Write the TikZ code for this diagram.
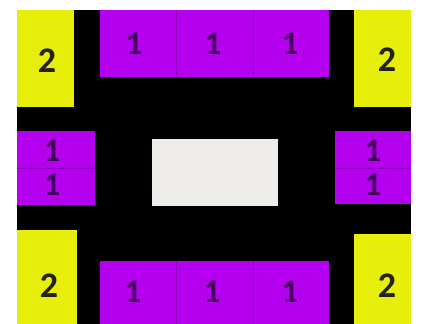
\documentclass[tikz,border=0pt]{standalone}
\usepackage{fontspec}
\setmainfont{Carlito}
\definecolor{pad}{RGB}{180,0,238}
\definecolor{padline}{RGB}{120,0,160}
\definecolor{yel}{RGB}{230,238,10}
\definecolor{core}{RGB}{238,236,232}
\definecolor{digone}{RGB}{70,0,95}
\definecolor{digtwo}{RGB}{35,35,25}
\tikzset{
  two/.style={text=digtwo,font=\fontsize{36}{36}\selectfont\bfseries,inner sep=0pt},
  one/.style={text=digone,font=\fontsize{33}{33}\selectfont\bfseries,inner sep=0pt},
  divider/.style={draw=padline,line width=0.8pt,opacity=0.6}
}
\begin{document}
\begin{tikzpicture}[x=1pt,y=-1pt]
\useasboundingbox (0,0) rectangle (429,324);
\fill[white] (0,0) rectangle (429,324);
% black body
\fill[black] (17,10) rectangle (411,324);
% yellow corners
\fill[yel] (17,10) rectangle (74,107);
\fill[yel] (354,10) rectangle (411,107);
\fill[yel] (17,230) rectangle (77,324);
\fill[yel] (354,234) rectangle (411,324);
% purple pads
\fill[pad] (100,10) rectangle (329,77);
\fill[pad] (100,261) rectangle (329,324);
\fill[pad] (17,131) rectangle (95,205);
\fill[pad] (335,131) rectangle (411,204);
% dividers
\draw[divider] (176,10) -- (176,77);
\draw[divider] (253,10) -- (253,77);
\draw[divider] (176,261) -- (176,324);
\draw[divider] (253,261) -- (253,324);
\draw[divider] (17,168) -- (95,168);
\draw[divider] (335,168) -- (411,168);
% core
\fill[core] (152,139) rectangle (278,206);
% labels
\node[two] (tl) at (47,61) {2};
\node[two] (tr) at (387,60) {2};
\node[two] (bl) at (49,286) {2};
\node[two] (br) at (387,286) {2};
\node[one] (t1) at (134,44) {1};
\node[one] (t2) at (213,44) {1};
\node[one] (t3) at (290,44) {1};
\node[one] (b1) at (133,292) {1};
\node[one] (b2) at (212,292) {1};
\node[one] (b3) at (290,292) {1};
\node[one] (l1) at (52,151) {1};
\node[one] (l2) at (52,185) {1};
\node[one] (r1) at (373,151) {1};
\node[one] (r2) at (373,185) {1};
\end{tikzpicture}
\end{document}
